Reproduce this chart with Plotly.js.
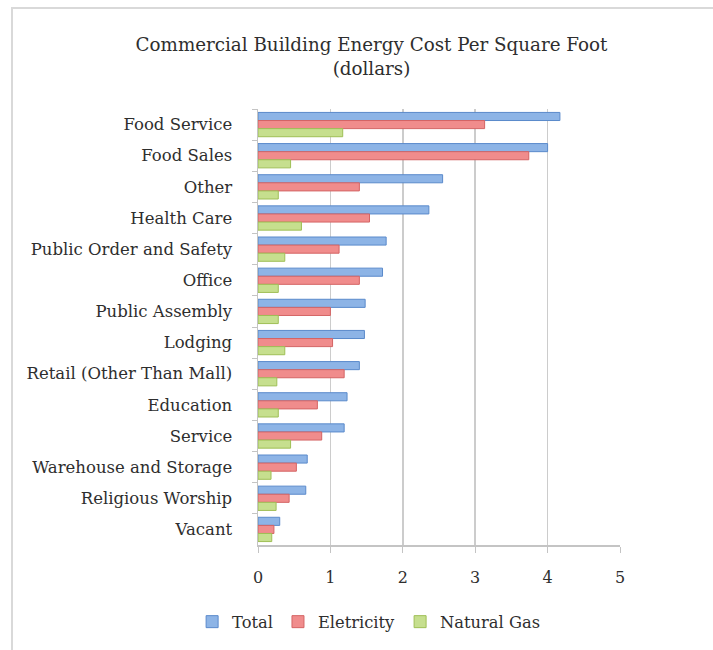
<!DOCTYPE html>
<html>
<head>
<meta charset="utf-8">
<script src="https://cdn.plot.ly/plotly-3.0.1.min.js"></script>
<style>html,body{margin:0;padding:0;background:#fff;}#chart{width:713px;height:650px;}</style>
</head>
<body>
<div id="chart"></div>
<script>
var categories = ["Food Service","Food Sales","Other","Health Care","Public Order and Safety","Office","Public Assembly","Lodging","Retail (Other Than Mall)","Education","Service","Warehouse and Storage","Religious Worship","Vacant"];
var totalValues = [4.17,4.00,2.55,2.36,1.77,1.72,1.48,1.47,1.40,1.23,1.19,0.68,0.66,0.30];
var electricityValues = [3.13,3.74,1.40,1.54,1.12,1.40,1.00,1.03,1.19,0.82,0.88,0.53,0.43,0.22];
var gasValues = [1.17,0.45,0.28,0.60,0.37,0.28,0.28,0.37,0.26,0.28,0.45,0.18,0.25,0.19];
var seriesNames = ["Total","Eletricity","Natural Gas"];
var xTicks = [0,1,2,3,4,5];

var fontFam = "DejaVu Serif, Liberation Serif, serif";
var txtColor = '#2e2e2e';
function mk(name, vals, fill, line){
  return {type:'bar', orientation:'h', name:name, x:vals, y:categories,
    marker:{color:fill, line:{color:line, width:1}}, hoverinfo:'x+y'};
}
var data = [
  mk(seriesNames[0], totalValues, '#8db4e6', '#5a8acb'),
  mk(seriesNames[1], electricityValues, '#f08c8c', '#d46464'),
  mk(seriesNames[2], gasValues, '#c6df8e', '#9fbf56')
];
var layout = {
  width:713, height:650,
  paper_bgcolor:'#fff', plot_bgcolor:'#fff',
  margin:{l:258, r:93, t:109, b:105},
  barmode:'group', bargap:0.22, bargroupgap:0,
  font:{family:fontFam, color:txtColor, size:16},
  title:{text:'Commercial Building Energy Cost Per Square Foot<br>(dollars)', font:{family:fontFam, size:18.3, color:txtColor},
    xref:'container', x:0.521, xanchor:'center', yref:'container', y:0.921, yanchor:'top'},
  xaxis:{range:[0,5], tickvals:xTicks, ticktext:xTicks.map(String), showgrid:true, gridcolor:'#cccccc', gridwidth:1.5,
    zeroline:false, showline:true, linecolor:'#c4c4c4', linewidth:1.5, ticks:'outside', ticklen:6, tickcolor:'#c4c4c4',
    tickfont:{family:fontFam, size:16, color:txtColor}, ticklabelstandoff:11, fixedrange:true},
  yaxis:{autorange:'reversed', showline:true, linecolor:'#c4c4c4', linewidth:1.5, ticks:'outside', ticklen:5, tickcolor:'#c4c4c4',
    tickson:'boundaries', showgrid:false, tickfont:{family:fontFam, size:16.5, color:txtColor}, ticklabelstandoff:21, fixedrange:true},
  legend:{orientation:'h', xref:'container', x:0.517, xanchor:'center', yref:'container', y:0.043, yanchor:'middle',
    font:{family:fontFam, size:16.3, color:txtColor}, traceorder:'normal', itemwidth:30},
  shapes:[{type:'rect', xref:'paper', yref:'paper', x0:0, x1:1, y0:0, y1:1, line:{color:'#d9d9d9', width:2}, fillcolor:'rgba(0,0,0,0)'}],
  showlegend:true
};
// outer frame: left edge x=12, top edge y=8, running off the right and bottom
var plotW = 713-258-93, plotH = 650-109-105;
layout.shapes[0].x0 = (12-258)/plotW;
layout.shapes[0].y1 = (650-105-8)/plotH;
layout.shapes[0].x1 = (740-258)/plotW;
layout.shapes[0].y0 = (650-105-680)/plotH;
Plotly.newPlot('chart', data, layout, {displayModeBar:false, staticPlot:true});
</script>
</body>
</html>
